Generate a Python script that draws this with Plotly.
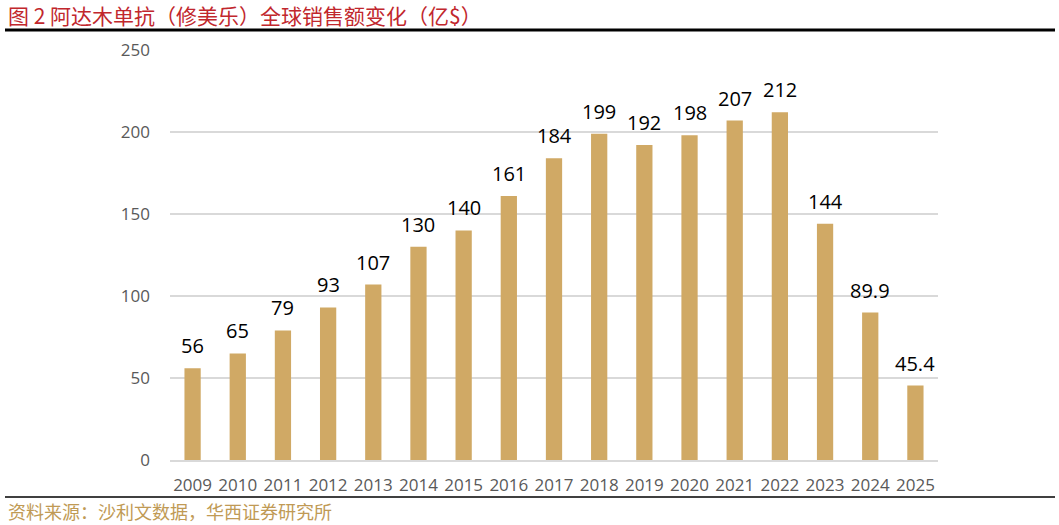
import plotly.graph_objects as go

years = [2009, 2010, 2011, 2012, 2013, 2014, 2015, 2016, 2017,
         2018, 2019, 2020, 2021, 2022, 2023, 2024, 2025]
sales = [56, 65, 79, 93, 107, 130, 140, 161, 184, 199, 192, 198, 207, 212, 144, 89.9, 45.4]
labels = ["56", "65", "79", "93", "107", "130", "140", "161", "184", "199", "192",
          "198", "207", "212", "144", "89.9", "45.4"]
y_ticks = [0, 50, 100, 150, 200, 250]

title_text = "图 2 阿达木单抗（修美乐）全球销售额变化（亿$）"
source_text = "资料来源：沙利文数据，华西证券研究所"

L, R, T, B = 170, 121, 50, 65
W, H = 1059, 525
PW, PH = W - L - R, H - T - B


def px_x(x):
    return (x - L) / PW


def px_y(y):
    return (H - B - y) / PH


fig = go.Figure()
fig.add_trace(go.Bar(x=years, y=sales, marker_color="#d0a965",
                     marker_line_width=0, width=0.36, hoverinfo="x+y"))

for x, y, t in zip(years, sales, labels):
    fig.add_annotation(x=x, y=y, text=t, showarrow=False, yanchor="bottom",
                       yshift=7, font=dict(size=20, color="#000000",
                                           family="Open Sans, Liberation Sans, sans-serif"))

fig.add_annotation(x=px_x(6), y=px_y(15), xref="paper", yref="paper", xanchor="left",
                   yanchor="middle", text=title_text, showarrow=False,
                   font=dict(size=21, color="#c1272d", family="Noto Sans CJK SC"))
fig.add_annotation(x=px_x(6), y=px_y(511), xref="paper", yref="paper", xanchor="left",
                   yanchor="middle", text=source_text, showarrow=False,
                   font=dict(size=18, color="#c09a55", family="Noto Sans CJK SC"))

fig.update_layout(
    width=W, height=H,
    margin=dict(l=L, r=R, t=T, b=B),
    paper_bgcolor="white", plot_bgcolor="white",
    showlegend=False,
    xaxis=dict(range=[2008.5, 2025.5], tickvals=years, showline=True,
               linecolor="#d9d9d9", linewidth=1.5, showgrid=False, zeroline=False,
               ticks="", ticklabelstandoff=9,
               tickfont=dict(size=17, color="#595959",
                             family="Open Sans, Liberation Sans, sans-serif")),
    yaxis=dict(range=[0, 250], tickvals=y_ticks, showgrid=True, gridcolor="#d9d9d9",
               gridwidth=1.5, zeroline=False, ticklabelstandoff=19,
               tickfont=dict(size=17, color="#595959",
                             family="Open Sans, Liberation Sans, sans-serif")),
)

fig.add_shape(type="line", xref="paper", yref="paper", x0=px_x(5), x1=px_x(1055),
              y0=px_y(30), y1=px_y(30), line=dict(color="#000000", width=3))
fig.add_shape(type="line", xref="paper", yref="paper", x0=px_x(5), x1=px_x(1055),
              y0=px_y(497), y1=px_y(497), line=dict(color="#000000", width=1.5))

fig.write_html("out.html")
